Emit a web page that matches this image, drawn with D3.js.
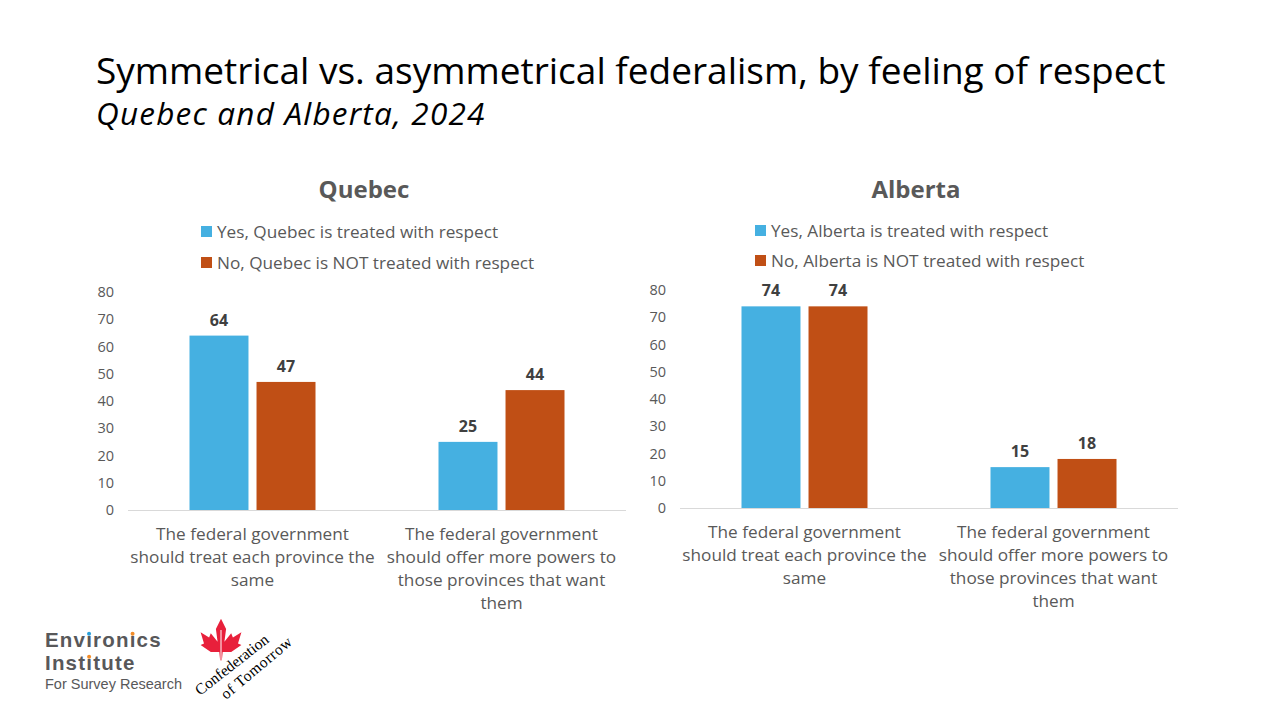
<!DOCTYPE html>
<html>
<head>
<meta charset="utf-8">
<script src="https://cdn.jsdelivr.net/npm/d3@7"></script>
<style>
  body { margin: 0; background: #fff; }
  svg { display: block; font-family: "Open Sans", "Liberation Sans", Arial, sans-serif; }
</style>
</head>
<body>
<div id="chart"></div>
<script>
const WIDTH = 1280;
const HEIGHT = 720;

// data
const categories = [
  ["The federal government", "should treat each province the", "same"],
  ["The federal government", "should offer more powers to", "those provinces that want", "them"]
];
const quebecYes = [64, 25];
const quebecNo = [47, 44];
const albertaYes = [74, 15];
const albertaNo = [74, 18];
const yTicks = [0, 10, 20, 30, 40, 50, 60, 70, 80];
const quebecLegend = ["Yes, Quebec is treated with respect", "No, Quebec is NOT treated with respect"];
const albertaLegend = ["Yes, Alberta is treated with respect", "No, Alberta is NOT treated with respect"];

const COLORS = ["#45B0E1", "#C04F15"];
const TEXT_GREY = "#595959";

const svg = d3.select("#chart")
  .append("svg")
  .attr("width", WIDTH)
  .attr("height", HEIGHT);

svg.append("text")
  .attr("x", 96)
  .attr("y", 84)
  .attr("font-size", 37)
  .attr("fill", "#000")
  .text("Symmetrical vs. asymmetrical federalism, by feeling of respect");

svg.append("text")
  .attr("x", 96)
  .attr("y", 125)
  .attr("font-size", 31.5)
  .attr("letter-spacing", 1.2)
  .attr("font-style", "italic")
  .attr("fill", "#000")
  .text("Quebec and Alberta, 2024");

function drawPanel(p) {
  let g = svg.append("g");

  let x = d3.scaleBand()
    .domain(d3.range(categories.length))
    .range([p.left, p.right]);

  let xSub = d3.scaleBand()
    .domain([0, 1])
    .range([0, 126])
    .paddingInner(0.12);

  let y = d3.scaleLinear()
    .domain([0, 80])
    .range([p.bottom, p.top]);

  // title
  g.append("text")
    .attr("x", p.titleX)
    .attr("y", 198)
    .attr("text-anchor", "middle")
    .attr("font-size", 24)
    .attr("font-weight", "bold")
    .attr("fill", TEXT_GREY)
    .text(p.name);

  // legend
  p.legend.forEach((t, i) => {
    let ly = p.legendY[i];
    g.append("rect")
      .attr("x", p.legendX)
      .attr("y", ly - 6)
      .attr("width", 11)
      .attr("height", 11)
      .attr("fill", COLORS[i]);
    g.append("text")
      .attr("x", p.legendX + 16)
      .attr("y", ly)
      .attr("dy", "0.35em")
      .attr("font-size", 17.2)
      .attr("fill", TEXT_GREY)
      .text(t);
  });

  // y axis, labels only
  let yAxis = g.append("g")
    .attr("transform", `translate(${p.left - 14}, 0)`)
    .call(d3.axisLeft(y).tickValues(yTicks).tickSize(0).tickPadding(0));
  yAxis.select(".domain").remove();
  yAxis.selectAll("text")
    .attr("font-size", 14.5)
    .attr("font-family", "Open Sans, Liberation Sans, Arial, sans-serif")
    .attr("fill", TEXT_GREY);

  // baseline
  g.append("line")
    .attr("x1", p.left)
    .attr("x2", p.right)
    .attr("y1", y(0) + 0.5)
    .attr("y2", y(0) + 0.5)
    .attr("stroke", "#D9D9D9")
    .attr("stroke-width", 1);

  let series = [p.yes, p.no];
  let offset = (x.bandwidth() - 126) / 2;

  series.forEach((vals, s) => {
    g.selectAll(null)
      .data(vals)
      .enter()
      .append("rect")
      .attr("x", (d, i) => x(i) + offset + xSub(s))
      .attr("y", d => y(d))
      .attr("width", xSub.bandwidth())
      .attr("height", d => y(0) - y(d))
      .attr("fill", COLORS[s]);

    g.selectAll(null)
      .data(vals)
      .enter()
      .append("text")
      .attr("x", (d, i) => x(i) + offset + xSub(s) + xSub.bandwidth() / 2)
      .attr("y", d => y(d) - 10)
      .attr("text-anchor", "middle")
      .attr("font-size", 16)
      .attr("font-weight", "bold")
      .attr("fill", "#404040")
      .text(d => d);
  });

  // category labels
  categories.forEach((lines, i) => {
    let t = g.append("text")
      .attr("text-anchor", "middle")
      .attr("font-size", 17.2)
      .attr("fill", TEXT_GREY);
    lines.forEach((ln, j) => {
      t.append("tspan")
        .attr("x", x(i) + x.bandwidth() / 2)
        .attr("y", y(0) + 30 + j * 23)
        .text(ln);
    });
  });
}

drawPanel({
  name: "Quebec", left: 128, right: 626, top: 292, bottom: 510,
  titleX: 364, legendX: 201, legendY: [232, 263],
  legend: quebecLegend, yes: quebecYes, no: quebecNo
});

drawPanel({
  name: "Alberta", left: 680, right: 1178, top: 290, bottom: 508,
  titleX: 916, legendX: 755, legendY: [231, 261],
  legend: albertaLegend, yes: albertaYes, no: albertaNo
});

// logos (drawn as text and shapes)
let logo = svg.append("g")
  .attr("font-family", "Liberation Sans, Arial, sans-serif");
let brand = logo.append("text")
  .attr("font-size", 20.5).attr("font-weight", "bold")
  .attr("letter-spacing", 1.2)
  .attr("fill", "#58585A");
let line1 = brand.append("tspan").attr("x", 45).attr("y", 647).text("Env\u0131ron\u0131cs");
let line2 = brand.append("tspan").attr("x", 45).attr("y", 670).text("Inst\u0131tute");

// coloured i-dots
[[line1, 3, "#2A9FD8"], [line1, 7, "#F28C28"], [line2, 4, "#F28C28"]].forEach(([ts, idx, col]) => {
  let box = brand.node().getExtentOfChar(idx + (ts === line2 ? 10 : 0));
  logo.append("circle")
    .attr("cx", box.x + (box.width - 1.2) / 2)
    .attr("cy", +ts.attr("y") - 13.2)
    .attr("r", 2)
    .attr("fill", col);
});

logo.append("text")
  .attr("x", 45).attr("y", 689)
  .attr("font-size", 14.5)
  .attr("fill", "#58585A")
  .text("For Survey Research");

// maple leaf
logo.append("path")
  .attr("transform", "translate(221, 640) scale(0.85)")
  .attr("d", "M0,-25 L6,-13 L4,2 L12,-8 L14,-3 L24,-9 L20,4 L24,6 L12,14 L2,14 L1,24 L-1,24 L-2,14 L-12,14 L-24,6 L-20,4 L-24,-9 L-14,-3 L-12,-8 L-4,2 L-6,-13 Z")
  .attr("fill", "#E8203B");
logo.append("line")
  .attr("x1", 221).attr("y1", 630).attr("x2", 221).attr("y2", 661)
  .attr("stroke", "#fff").attr("stroke-width", 1);

logo.append("text")
  .attr("transform", "translate(200, 696) rotate(-38)")
  .attr("font-family", "Liberation Serif, serif")
  .attr("font-size", 15.5)
  .attr("fill", "#000")
  .text("Confederation");
logo.append("text")
  .attr("transform", "translate(226, 700) rotate(-40)")
  .attr("font-family", "Liberation Serif, serif")
  .attr("font-size", 15.5)
  .attr("letter-spacing", 0.6)
  .attr("fill", "#000")
  .text("of Tomorrow");
</script>
</body>
</html>
